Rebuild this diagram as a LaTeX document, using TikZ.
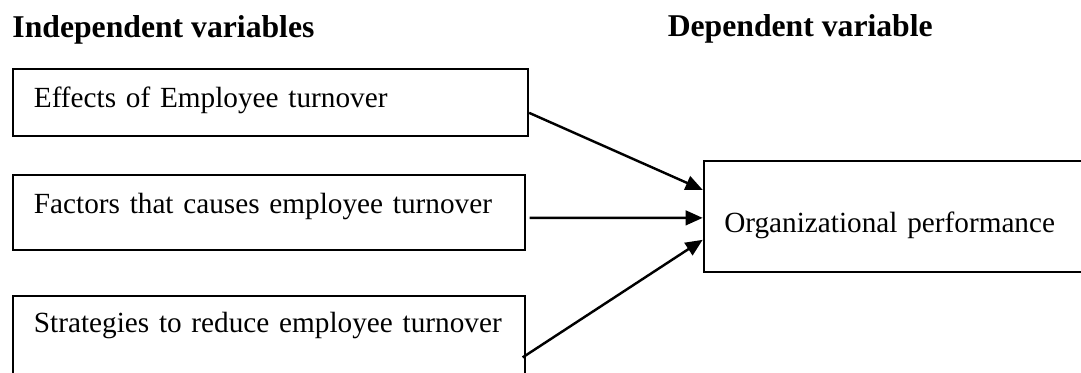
\documentclass[tikz,border=0pt]{standalone}
\usepackage{fontspec}
\setmainfont{Liberation Serif}
\usepackage{tikz}
\usetikzlibrary{arrows.meta}

\begin{document}
\begin{tikzpicture}[
    heading/.style={anchor=base west, inner sep=0pt, font=\fontsize{13}{15}\selectfont\bfseries},
    varbox/.style={draw, line width=0.8pt, anchor=north west, align=left, inner xsep=8.7pt, inner ysep=0pt, font=\fontsize{12}{14}\selectfont},
    flow/.style={line width=1pt, -{Triangle[length=7pt,width=6pt]}}]
            \useasboundingbox (0, 0) rectangle (15.587, 5.364);
            \clip (0, 0) rectangle (15.587, 5.364);

            % headings
            \node[heading] (indep) at (0.173, 4.830) {Independent variables};
            \node[heading] (dep) at (9.622, 4.838) {Dependent variable};

            % independent variables
            \node[varbox, text width=194.1pt, text height=15.75pt, text depth=11.6pt] (effects) at (0.169, 4.379) {Effects of Employee turnover};
            \node[varbox, text width=192.9pt, text height=15.75pt, text depth=15.0pt] (causes) at (0.169, 2.851) {Factors that causes employee turnover};
            \node[varbox, text width=192.9pt, text height=15.06pt, text depth=21.9pt] (strategies) at (0.169, 1.110) {Strategies to reduce employee turnover};

            % dependent variable
            \node[varbox, inner xsep=8.45pt, text width=190pt, text height=29.3pt, text depth=16.2pt] (perf) at (10.132, 3.057) {Organizational performance};

            \draw[flow] ([yshift=-4.2pt]effects.east) -- ([yshift=10.9pt]perf.west);
            \draw[flow] ([xshift=1.4pt, yshift=-2.1pt]causes.east) -- ([yshift=-0.6pt]perf.west);
            \draw[flow] ([xshift=-1.5pt, yshift=-25.6pt]strategies.north east) -- ([yshift=-9.6pt]perf.west);
        \end{tikzpicture}
\end{document}
